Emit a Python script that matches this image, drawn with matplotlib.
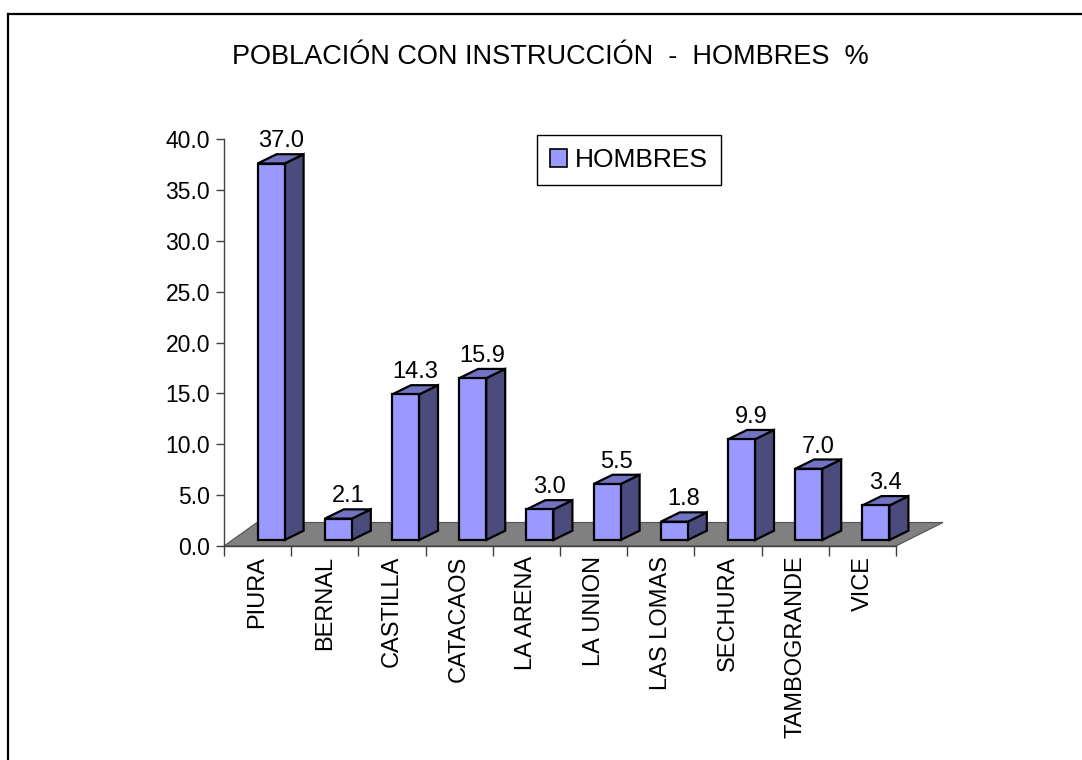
import matplotlib
matplotlib.use("Agg")
import matplotlib.pyplot as plt
from matplotlib.patches import Polygon, Rectangle
from matplotlib.lines import Line2D
import numpy as np

categories = ["PIURA", "BERNAL", "CASTILLA", "CATACAOS", "LA ARENA",
              "LA UNION", "LAS LOMAS", "SECHURA", "TAMBOGRANDE", "VICE"]
values = [37.0, 2.1, 14.3, 15.9, 3.0, 5.5, 1.8, 9.9, 7.0, 3.4]
yticks = [0, 5, 10, 15, 20, 25, 30, 35, 40]
title = "POBLACIÓN CON INSTRUCCIÓN  -  HOMBRES  %"
series_name = "HOMBRES"

plt.rcParams['font.family'] = ['Liberation Sans', 'DejaVu Sans']

W, H = 1082, 760
fig = plt.figure(figsize=(W / 100, H / 100), dpi=100)
fig.patch.set_facecolor('white')

# axes covering front plane
x0, x1, y0, y1 = 224, 896, 546, 139
ax = fig.add_axes([x0 / W, 1 - y0 / H, (x1 - x0) / W, (y0 - y1) / H])
ax.set_xlim(0, len(categories))
ax.set_ylim(0, 40)
ax.patch.set_alpha(0)

pxx = (x1 - x0) / len(categories)   # px per category
pxy = (y0 - y1) / 40.0              # px per unit

front_c = '#9999FF'
side_c = '#4B4B7E'
top_c = '#7373C4'
floor_c = '#808080'

# floor
fl_back_left = 33 / pxx
fl_back_right = 47 / pxx
fl_dy = 23.5 / pxy
n = len(categories)
floor = Polygon([(0, 0), (n, 0), (n + fl_back_right, fl_dy), (fl_back_left, fl_dy)],
                closed=True, facecolor=floor_c, edgecolor='#505050', lw=0.8,
                clip_on=False, zorder=1)
ax.add_patch(floor)

# bars
bw = 27 / pxx
bdx = 19 / pxx
bdy = 9.3 / pxy
base = 6 / pxy
for i, v in enumerate(values):
    xl = i + 0.5
    xr = xl + bw
    yb = base
    yt = base + v
    front = Polygon([(xl, yb), (xr, yb), (xr, yt), (xl, yt)], closed=True,
                    facecolor=front_c, edgecolor='black', lw=1.6, clip_on=False, zorder=3)
    side = Polygon([(xr, yb), (xr + bdx, yb + bdy), (xr + bdx, yt + bdy), (xr, yt)], closed=True,
                   facecolor=side_c, edgecolor='black', lw=1.6, clip_on=False, zorder=3)
    top = Polygon([(xl, yt), (xr, yt), (xr + bdx, yt + bdy), (xl + bdx, yt + bdy)], closed=True,
                  facecolor=top_c, edgecolor='black', lw=1.6, clip_on=False, zorder=3)
    for p in (side, top, front):
        ax.add_patch(p)
    ax.annotate(f"{v:.1f}", xy=(xl + (bw + bdx) / 2, yt + bdy), xytext=(0, 5),
                textcoords='offset points', ha='center', va='baseline',
                fontsize=17, color='black', zorder=4, annotation_clip=False)

# axes styling
for s in ['top', 'right', 'bottom']:
    ax.spines[s].set_visible(False)
ax.spines['left'].set_color('#404040')
ax.spines['left'].set_linewidth(1.0)
ax.set_yticks(yticks)
ax.set_yticklabels([f"{t:.1f}" for t in yticks], fontsize=16.5)
ax.tick_params(axis='y', direction='out', length=6, width=1, color='#404040', pad=4)

ax.set_xticks(np.arange(n + 1))
ax.set_xticklabels([])
ax.tick_params(axis='x', which='major', direction='out', length=7, width=1, color='#404040')
ax.set_xticks(np.arange(n) + 0.5, minor=True)
ax.set_xticklabels(categories, minor=True, rotation=90, fontsize=17, va='top', ha='center')
ax.tick_params(axis='x', which='minor', length=0, pad=7)
ax.axhline(0, color='#404040', lw=1.0, clip_on=False, zorder=2)

# title
fig.text(550 / W, 1 - 63.5 / H, title, ha='center', va='baseline', fontsize=19.5)

# legend
handle = Rectangle((0, 0), 1, 1, facecolor=front_c, edgecolor='black', lw=1.2)
leg = fig.legend([handle], [series_name], loc='upper left',
                 bbox_to_anchor=(537 / W, 1 - 135 / H), fontsize=19,
                 frameon=True, fancybox=False, framealpha=1, edgecolor='black',
                 handlelength=0.65, handleheight=0.65, handletextpad=0.3,
                 borderpad=0.5, borderaxespad=0)
leg.get_frame().set_linewidth(1.0)

# chart border (left and top edges visible)
fig.add_artist(Line2D([8 / W, 8 / W], [0, 1 - 14 / H], color='black', lw=1.6))
fig.add_artist(Line2D([8 / W, 1], [1 - 14 / H, 1 - 14 / H], color='black', lw=1.6))

fig.savefig("out.png", dpi=100, facecolor='white')
